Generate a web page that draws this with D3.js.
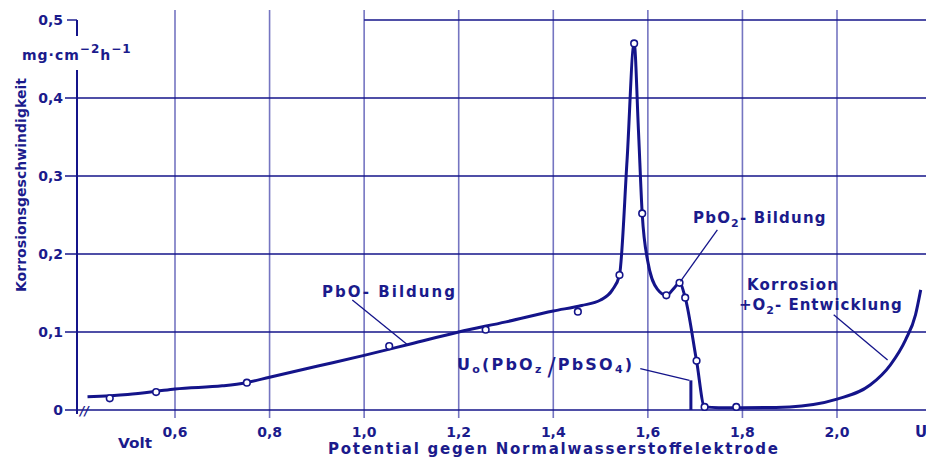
<!DOCTYPE html>
<html>
<head>
<meta charset="utf-8">
<script src="https://cdn.jsdelivr.net/npm/d3@7"></script>
<style>
  body { margin: 0; background: #fff; }
  svg { display: block; }
  text { font-family: 'DejaVu Sans', sans-serif; font-weight: bold; fill: #1b1b8c; }
</style>
</head>
<body>
<svg id="chart" width="926" height="457"></svg>
<script>
// tick labels (german decimal comma)
const xTicks = [0.6, 0.8, 1.0, 1.2, 1.4, 1.6, 1.8, 2.0];
const xTickLabels = ["0,6", "0,8", "1,0", "1,2", "1,4", "1,6", "1,8", "2,0"];
const yTicks = [0, 0.1, 0.2, 0.3, 0.4, 0.5];
const yTickLabels = ["0", "0,1", "0,2", "0,3", "0,4", "0,5"];

// corrosion curve, potential in V vs. corrosion rate in mg cm-2 h-1
const curveV = [0.415, 0.5, 0.56, 0.6, 0.7, 0.75, 0.8, 0.9, 1.0, 1.1, 1.2, 1.3, 1.4, 1.46, 1.5, 1.525, 1.54, 1.556, 1.571, 1.58, 1.588, 1.6, 1.62, 1.64, 1.655, 1.667, 1.679, 1.703, 1.72, 1.75, 1.8, 1.9, 1.95, 2.0, 2.07, 2.113, 2.145, 2.166, 2.177];
const curveRate = [0.017, 0.020, 0.024, 0.027, 0.031, 0.035, 0.042, 0.056, 0.070, 0.085, 0.100, 0.113, 0.127, 0.134, 0.141, 0.154, 0.173, 0.32, 0.47, 0.36, 0.252, 0.19, 0.155, 0.147, 0.156, 0.163, 0.144, 0.063, 0.004, 0.003, 0.003, 0.004, 0.007, 0.014, 0.032, 0.058, 0.09, 0.122, 0.154];

// measured points (open circles)
const pointV = [0.462, 0.56, 0.752, 1.053, 1.257, 1.452, 1.54, 1.571, 1.588, 1.639, 1.667, 1.679, 1.703, 1.72, 1.787];
const pointRate = [0.015, 0.023, 0.035, 0.082, 0.103, 0.126, 0.173, 0.47, 0.252, 0.147, 0.163, 0.144, 0.063, 0.004, 0.004];

// U0 (PbO2/PbSO4) equilibrium potential
const u0V = 1.691;
const u0Height = 0.038;

const svg = d3.select("#chart");
const blue = "#14148a";
const gridBlue = "#3a3aa6";

const xScale = d3.scaleLinear().domain([0.6, 2.0]).range([175, 837]);
const yScale = d3.scaleLinear().domain([0, 0.5]).range([410, 20]);
const axisX = 77;

// vertical grid lines
svg.append("g")
  .selectAll("line")
  .data(xTicks)
  .join("line")
  .attr("x1", d => xScale(d))
  .attr("x2", d => xScale(d))
  .attr("y1", 10)
  .attr("y2", 418)
  .attr("stroke", gridBlue)
  .attr("stroke-opacity", 0.7)
  .attr("stroke-width", 1.6);

// horizontal grid lines (0,5 line starts at 1,0)
svg.append("g")
  .selectAll("line")
  .data(yTicks)
  .join("line")
  .attr("x1", d => d === 0.5 ? xScale(1.0) : 65)
  .attr("x2", 926)
  .attr("y1", d => yScale(d))
  .attr("y2", d => yScale(d))
  .attr("stroke", blue)
  .attr("stroke-width", 1.4);

// y axis with gap for the unit
svg.append("line")
  .attr("x1", axisX).attr("x2", axisX)
  .attr("y1", 70).attr("y2", 414)
  .attr("stroke", blue).attr("stroke-width", 2);
svg.append("line")
  .attr("x1", axisX).attr("x2", axisX)
  .attr("y1", yScale(0.5)).attr("y2", 36)
  .attr("stroke", blue).attr("stroke-width", 2);
svg.append("line")
  .attr("x1", 67).attr("x2", axisX)
  .attr("y1", yScale(0.5)).attr("y2", yScale(0.5))
  .attr("stroke", blue).attr("stroke-width", 1.4);

// axis break
svg.append("text")
  .attr("x", axisX + 3)
  .attr("y", yScale(0) + 5)
  .style("font-size", "12px")
  .style("font-style", "italic")
  .text("//");

svg.append("g")
  .selectAll("text")
  .data(yTicks)
  .join("text")
  .attr("x", 63)
  .attr("y", d => yScale(d) + 5)
  .attr("text-anchor", "end")
  .style("font-size", "14px")
  .text((d, i) => yTickLabels[i]);

svg.append("g")
  .selectAll("text")
  .data(xTicks)
  .join("text")
  .attr("x", d => xScale(d))
  .attr("y", 437)
  .attr("text-anchor", "middle")
  .style("font-size", "14px")
  .text((d, i) => xTickLabels[i]);

svg.append("text").attr("x", 915).attr("y", 437).style("font-size", "15px").text("U");
svg.append("text").attr("x", 118).attr("y", 448).style("font-size", "14px")
  .attr("textLength", 34).attr("lengthAdjust", "spacingAndGlyphs").text("Volt");

svg.append("text")
  .attr("x", 328)
  .attr("y", 454)
  .style("font-size", "15px")
  .attr("textLength", 450)
  .attr("lengthAdjust", "spacing")
  .text("Potential gegen Normalwasserstoffelektrode");

svg.append("text")
  .attr("transform", "translate(26,292) rotate(-90)")
  .style("font-size", "14px")
  .attr("textLength", 214)
  .attr("lengthAdjust", "spacing")
  .text("Korrosionsgeschwindigkeit");

// unit  mg·cm-2h-1
const unit = svg.append("text").attr("x", 22).attr("y", 60)
  .style("font-size", "14px").style("letter-spacing", "1px");
unit.append("tspan").text("mg·cm");
unit.append("tspan").attr("dy", -7).style("font-size", "12px").text("−2");
unit.append("tspan").attr("dy", 7).text("h");
unit.append("tspan").attr("dy", -7).style("font-size", "12px").text("−1");

// curve
const line = d3.line()
  .x(d => xScale(d[0]))
  .y(d => yScale(d[1]))
  .curve(d3.curveMonotoneX);

svg.append("path")
  .datum(d3.zip(curveV, curveRate))
  .attr("d", line)
  .attr("fill", "none")
  .attr("stroke", blue)
  .attr("stroke-width", 3)
  .attr("stroke-linejoin", "round");

// U0 marker
svg.append("line")
  .attr("x1", xScale(u0V)).attr("x2", xScale(u0V))
  .attr("y1", yScale(0)).attr("y2", yScale(u0Height))
  .attr("stroke", blue).attr("stroke-width", 3);

svg.append("g")
  .selectAll("circle")
  .data(d3.zip(pointV, pointRate))
  .join("circle")
  .attr("cx", d => xScale(d[0]))
  .attr("cy", d => yScale(d[1]))
  .attr("r", 3.3)
  .attr("fill", "#fff")
  .attr("stroke", blue)
  .attr("stroke-width", 1.6);

// leader lines for the labels, in data units
const leaders = [
  [[0.975, 0.141], [1.093, 0.083]],
  [[1.747, 0.231], [1.669, 0.165]],
  [[1.993, 0.122], [2.107, 0.064]],
  [[1.584, 0.053], [1.688, 0.038]]
];
svg.append("g")
  .selectAll("line")
  .data(leaders)
  .join("line")
  .attr("x1", d => xScale(d[0][0]))
  .attr("y1", d => yScale(d[0][1]))
  .attr("x2", d => xScale(d[1][0]))
  .attr("y2", d => yScale(d[1][1]))
  .attr("stroke", blue)
  .attr("stroke-width", 1.3);

svg.append("text").attr("x", 322).attr("y", 297).style("font-size", "15px")
  .attr("textLength", 133).attr("lengthAdjust", "spacing").text("PbO- Bildung");

const pbo2 = svg.append("text").attr("x", 693).attr("y", 223)
  .style("font-size", "15px").style("letter-spacing", "1.2px");
pbo2.append("tspan").text("PbO");
pbo2.append("tspan").attr("dy", 4).style("font-size", "11px").text("2");
pbo2.append("tspan").attr("dy", -4).text("- Bildung");

svg.append("text").attr("x", 747).attr("y", 290).style("font-size", "15px")
  .attr("textLength", 91).attr("lengthAdjust", "spacing").text("Korrosion");

const o2 = svg.append("text").attr("x", 739).attr("y", 310)
  .style("font-size", "15px").style("letter-spacing", "1px");
o2.append("tspan").text("+O");
o2.append("tspan").attr("dy", 4).style("font-size", "11px").text("2");
o2.append("tspan").attr("dy", -4).text("- Entwicklung");

const u0 = svg.append("text").attr("x", 457).attr("y", 370)
  .style("font-size", "16px").style("letter-spacing", "2.2px");
u0.append("tspan").text("U");
u0.append("tspan").attr("dy", 3).style("font-size", "11px").text("o");
u0.append("tspan").attr("dy", -3).text("(PbO");
u0.append("tspan").attr("dy", 3).style("font-size", "11px").text("z");
u0.append("tspan").attr("dy", 2).attr("dx", 4).style("font-size", "24px").style("font-weight", "normal").text("/");
u0.append("tspan").attr("dy", -5).text("PbSO");
u0.append("tspan").attr("dy", 3).style("font-size", "11px").text("4");
u0.append("tspan").attr("dy", -3).text(")");
</script>
</body>
</html>
